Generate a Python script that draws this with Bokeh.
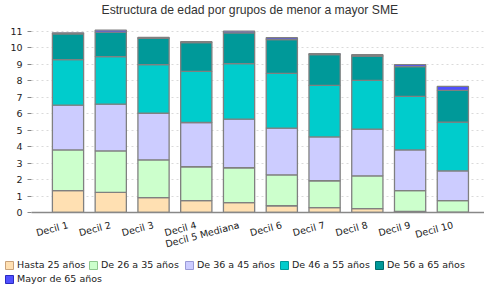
import math
from bokeh.plotting import figure
from bokeh.models import Legend, LegendItem, Range1d, ColumnDataSource, Title
from bokeh.embed import file_html
from bokeh.resources import INLINE

# ---- data ----
deciles = ["Decil 1", "Decil 2", "Decil 3", "Decil 4", "Decil 5 Mediana",
           "Decil 6", "Decil 7", "Decil 8", "Decil 9", "Decil 10"]
series_names = ["Hasta 25 años", "De 26 a 35 años", "De 36 a 45 años",
                "De 46 a 55 años", "De 56 a 65 años", "Mayor de 65 años"]
hasta25 = [1.33, 1.22, 0.90, 0.72, 0.60, 0.41, 0.30, 0.24, 0.06, 0.02]
de26_35 = [2.47, 2.52, 2.30, 2.06, 2.12, 1.88, 1.63, 1.99, 1.27, 0.70]
de36_45 = [2.72, 2.84, 2.83, 2.69, 2.95, 2.84, 2.66, 2.84, 2.47, 1.81]
de46_55 = [2.77, 2.89, 2.96, 3.10, 3.38, 3.32, 3.13, 2.96, 3.26, 2.96]
de56_65 = [1.57, 1.49, 1.59, 1.75, 1.87, 2.05, 1.88, 1.48, 1.81, 1.93]
mayor65 = [0.06, 0.12, 0.06, 0.06, 0.10, 0.12, 0.06, 0.08, 0.12, 0.24]
y_ticks = list(range(0, 12))

colors = ["#FFE0B2", "#CCFFCC", "#CCCCFF", "#00CCCC", "#009999", "#5050FF"]
legend_borders = ["#C9A27A", "#8FC78F", "#9A9AD6", "#009A9A", "#006B6B", "#2A2AC0"]

xpos = list(range(1, len(deciles) + 1))
keys = ["s0", "s1", "s2", "s3", "s4", "s5"]
source = ColumnDataSource(data=dict(x=xpos, s0=hasta25, s1=de26_35, s2=de36_45,
                                    s3=de46_55, s4=de56_65, s5=mayor65))

W = 484
H_MAIN, H_LEG = 258, 26
p = figure(width=W, height=H_MAIN, output_backend="svg", toolbar_location=None,
           x_range=Range1d(0.1464, 10.740), y_range=Range1d(0, 11.363),
           min_border_left=31, min_border_right=0, min_border_top=24,
           min_border_bottom=46, outline_line_color=None,
           background_fill_color="white", border_fill_color="white")

p.vbar_stack(keys, x="x", width=0.73, source=source, color=colors,
             line_color="#808080", line_width=1.3)

# title
p.title.text = "Estructura de edad por grupos de menor a mayor SME"
p.title.text_font = "Liberation Sans"
p.title.text_font_size = "12.2px"
p.title.text_font_style = "normal"
p.title.text_color = "#333333"
p.title.align = "left"
p.title.offset = 70
p.title.standoff = 0
# small blank spacer between the title and the plot area
p.add_layout(Title(text=" ", text_font_size="7px", standoff=0), "above")

# axes
xa = p.xaxis[0]
xa.ticker = xpos
xa.major_label_overrides = {i: d for i, d in zip(xpos, deciles)}
xa.major_label_orientation = math.radians(15)
xa.major_tick_line_color = None
xa.major_tick_out = 0
xa.major_tick_in = 0
xa.minor_tick_line_color = None
xa.axis_line_color = "#888888"
xa.axis_line_width = 1.3
xa.major_label_text_font = "DejaVu Sans"
xa.major_label_text_font_size = "9.5px"
xa.major_label_text_color = "#222222"
xa.major_label_standoff = 12

ya = p.yaxis[0]
ya.ticker = y_ticks
ya.axis_line_color = None
ya.major_tick_line_color = "#888888"
ya.major_tick_in = 0
ya.major_tick_out = 4
ya.minor_tick_line_color = None
ya.major_label_text_font = "DejaVu Sans"
ya.major_label_text_font_size = "9.5px"
ya.major_label_text_color = "#222222"
ya.major_label_standoff = 5

p.xgrid.grid_line_color = None
p.ygrid.grid_line_color = "#DADADA"
p.ygrid.grid_line_dash = "2 3"
p.ygrid.grid_line_width = 1

# legend strip (separate figure below the chart)
pl = figure(width=W, height=H_LEG, output_backend="svg", toolbar_location=None,
            x_axis_location=None, y_axis_location=None, min_border=0,
            min_border_left=0, min_border_right=0, min_border_top=0,
            min_border_bottom=0, outline_line_color=None,
            x_range=Range1d(0, 1), y_range=Range1d(0, 1),
            background_fill_color="white", border_fill_color="white")
pl.grid.grid_line_color = None
pl.title.visible = False

leg_pos = [(4, 14), (88, 14), (184, 14), (279, 14), (374, 14), (4, 0)]
for name, c, bc, loc in zip(series_names, colors, legend_borders, leg_pos):
    # zero-size proxy outside the visible range, only used for the legend swatch
    r = pl.quad(left=[-1], right=[-1], top=[-1], bottom=[-1], fill_color=c,
                line_color=bc, line_width=1)
    leg = Legend(items=[LegendItem(label=name, renderers=[r])],
                 location=loc, orientation="horizontal",
                 glyph_width=10, glyph_height=10, label_height=10,
                 label_standoff=3, padding=0, margin=0, spacing=0,
                 border_line_color=None, background_fill_alpha=0,
                 label_text_font="DejaVu Sans", label_text_font_size="9.5px",
                 label_text_color="#222222")
    pl.add_layout(leg, "center")

open("out.html", "w").write(file_html([p, pl], INLINE))
